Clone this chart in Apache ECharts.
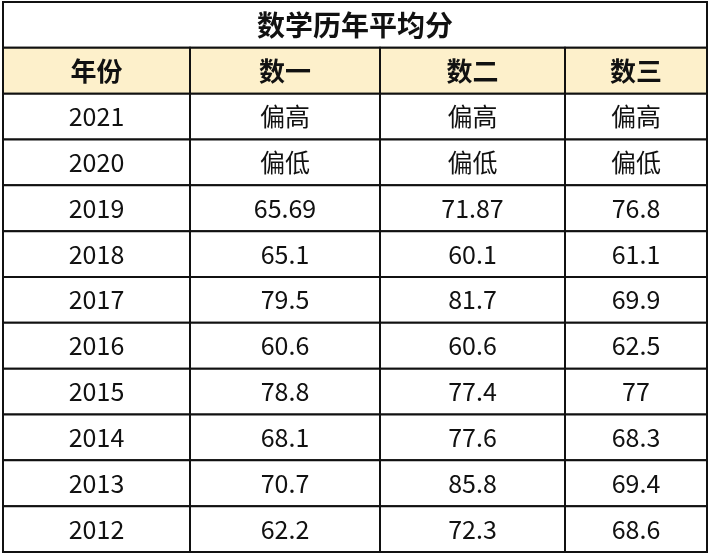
<!DOCTYPE html><html><head><meta charset="utf-8"><script src="https://cdn.jsdelivr.net/npm/echarts@6/dist/echarts.min.js"></script>
<style>html,body{margin:0;padding:0;background:#fff}#c{width:710px;height:554px}</style></head><body><div id="c"></div><script>
var title='数学历年平均分';
var headers=['年份','数一','数二','数三'];
var years=['2021','2020','2019','2018','2017','2016','2015','2014','2013','2012'];
var math1=['偏高','偏低','65.69','65.1','79.5','60.6','78.8','68.1','70.7','62.2'];
var math2=['偏高','偏低','71.87','60.1','81.7','60.6','77.4','77.6','85.8','72.3'];
var math3=['偏高','偏低','76.8','61.1','69.9','62.5','77','68.3','69.4','68.6'];
var colEdges=[0,187,377,562,704];
var data=[];
data.push({value:[0,4,0],text:title,kind:'title'});
headers.forEach(function(h,i){data.push({value:[i,i+1,1],text:h,kind:'head'});});
years.forEach(function(y,r){
  [y,math1[r],math2[r],math3[r]].forEach(function(t,c){data.push({value:[c,c+1,r+2],text:t,kind:'cell'});});
});
var chart=echarts.init(document.getElementById('c'));
chart.setOption({animation:false,
grid:{left:3,right:3,top:2,bottom:2},
xAxis:{type:'value',min:0,max:704,show:false},
yAxis:{type:'value',min:0,max:12,inverse:true,show:false},
series:[{type:'custom',data:data,renderItem:function(params,api){
  var d=data[params.dataIndex];
  var p0=api.coord([colEdges[api.value(0)],api.value(2)]);
  var p1=api.coord([colEdges[api.value(1)],api.value(2)+1]);
  var fill=d.kind==='head'?'#FDF0CB':'#fff';
  var size=d.kind==='title'?'28px':(d.kind==='head'?'26px':'25px');
  return {type:'group',children:[
    {type:'rect',shape:{x:p0[0],y:p0[1],width:p1[0]-p0[0],height:p1[1]-p0[1]},style:{fill:fill,stroke:'#111',lineWidth:2}},
    {type:'text',style:{text:d.text,x:(p0[0]+p1[0])/2,y:(p0[1]+p1[1])/2,align:'center',verticalAlign:'middle',
      font:(d.kind!=='cell'?'bold ':'')+size+' "Noto Sans CJK SC","Noto Sans",sans-serif',fill:'#111'}}
  ]};
}}]});
</script></body></html>
